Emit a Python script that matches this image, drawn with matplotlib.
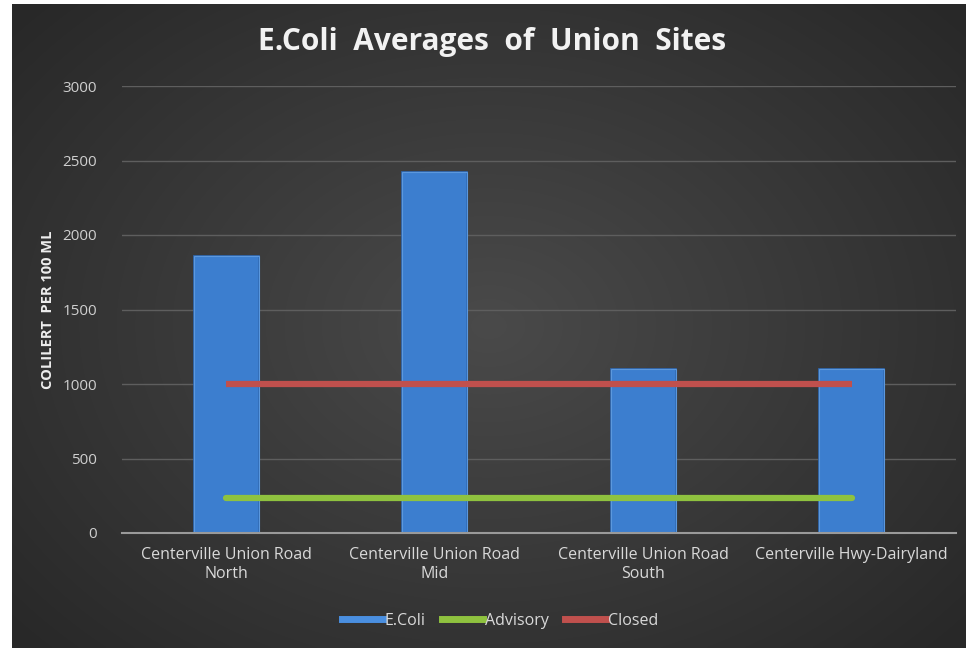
import numpy as np
import matplotlib
matplotlib.use("Agg")
import matplotlib.pyplot as plt
from matplotlib.lines import Line2D

sites = ["Centerville Union Road\nNorth", "Centerville Union Road\nMid",
         "Centerville Union Road\nSouth", "Centerville Hwy-Dairyland"]
ecoli = [1860, 2420, 1100, 1100]
advisory = [235, 235, 235, 235]
closed = [1000, 1000, 1000, 1000]
yticks = [0, 500, 1000, 1500, 2000, 2500, 3000]

plt.rcParams['font.family'] = ['Open Sans', 'DejaVu Sans']

W, H = 966, 648
fig = plt.figure(figsize=(W / 100, H / 100), dpi=100, facecolor="white")

# dark radial-gradient chart background
bg = fig.add_axes([12 / W, 0, 1 - 12 / W, 1 - 4 / H])
bg.set_axis_off()
gx, gy = np.meshgrid(np.linspace(-1, 1, 400), np.linspace(-1, 1, 300))
r = np.sqrt(gx ** 2 + (gy / 1.1) ** 2)
shade = 0.29 - 0.13 * np.clip(r, 0, 1.3) / 1.3
img = np.dstack([shade, shade, shade])
bg.imshow(img, aspect="auto", extent=[0, 1, 0, 1], interpolation="bilinear")
bg.set_xlim(0, 1)
bg.set_ylim(0, 1)

ax = fig.add_axes([122 / W, 1 - 533 / H, (956 - 122) / W, (533 - 86) / H])
ax.set_facecolor("none")
x = np.arange(len(sites))

ax.bar(x, ecoli, width=0.31, color="#3c7ecf", edgecolor="#2f6ab5",
       linewidth=1.2, zorder=2)
ax.bar(x, ecoli, width=0.31, color="none", edgecolor="#5c98dd",
       linewidth=0.8, zorder=2.1)
ax.plot(x, advisory, color="#8fc23f", linewidth=4.5, solid_capstyle="round", zorder=3)
ax.plot(x, closed, color="#c0504d", linewidth=4.5, solid_capstyle="butt", zorder=3)

ax.set_xlim(-0.5, len(sites) - 0.5)
ax.set_ylim(0, 3000)
ax.set_yticks(yticks)
ax.set_yticklabels([str(v) for v in yticks])
ax.grid(axis="y", color="#5e5e5e", linewidth=1.0, zorder=0)
ax.set_axisbelow(True)
for s in ["top", "right", "left"]:
    ax.spines[s].set_visible(False)
ax.spines["bottom"].set_color("#9a9a9a")
ax.spines["bottom"].set_linewidth(1.5)
ax.tick_params(axis="both", length=0, colors="#cfcfcf", labelsize=11)
ax.tick_params(axis="y", pad=18)
ax.tick_params(axis="x", pad=10)
ax.set_xticks(x)
ax.set_xticklabels(sites, color="#d9d9d9", fontsize=11.5, linespacing=1.3)

ax.set_ylabel("COLILERT  PER 100 ML", color="#eeeeee", fontsize=10.5,
              fontweight="bold", labelpad=5)

fig.text(492 / W, 1 - 42 / H, "E.Coli  Averages  of  Union  Sites",
         ha="center", va="center", fontsize=21.5, fontweight="bold", color="#f2f2f2")

handles = [Line2D([], [], color="#4a8fe0", linewidth=5),
           Line2D([], [], color="#8fc23f", linewidth=5),
           Line2D([], [], color="#c0504d", linewidth=5)]
leg = fig.legend(handles, ["E.Coli", "Advisory", "Closed"], loc="center",
                 bbox_to_anchor=(500 / W, 1 - 621 / H), ncol=3, frameon=False,
                 fontsize=11.5, handlelength=2.6, handletextpad=0.1,
                 columnspacing=1.0)
for t in leg.get_texts():
    t.set_color("#d9d9d9")

fig.savefig("out.png", dpi=100, facecolor="white")
